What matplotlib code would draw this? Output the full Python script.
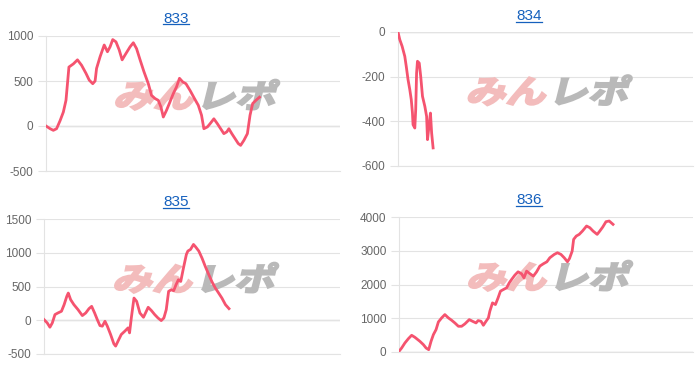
import matplotlib
matplotlib.use('Agg')
import matplotlib.pyplot as plt
from matplotlib.textpath import TextPath
from matplotlib.font_manager import FontProperties
from matplotlib.patches import PathPatch
from matplotlib.transforms import Affine2D
from matplotlib.lines import Line2D

# x = progress along the (fixed-length) x axis, 0..100
X833 = [0, 1.4, 2.5, 3.6, 4.8, 5.9, 6.8, 7.8, 9.3, 10.7, 12.1, 13.6, 14.7, 15.9, 16.7, 17.2,
        18.4, 19.8, 20.9, 21.8, 22.7, 23.8, 24.9, 25.9, 26.9, 28.6, 29.7, 30.8, 32.0, 33.3,
        34.8, 35.9, 37.1, 38.2, 39.1, 39.9, 41.0, 42.2, 43.3, 44.4, 45.4, 46.5, 47.6, 49.0,
        50.5, 51.8, 52.9, 53.7, 54.9, 55.8, 57.1, 58.3, 59.4, 60.5, 61.5, 62.2, 63.2, 64.3,
        65.4, 66.2, 67.3, 68.5, 69.4, 70.3, 71.4, 72.6]
Y833 = [0, -30, -48, -30, 60, 155, 286, 655, 690, 735, 675, 585, 510, 470, 500, 640,
        770, 900, 825, 880, 960, 935, 845, 735, 790, 880, 925, 860, 735, 605,
        470, 340, 305, 285, 210, 100, 175, 270, 360, 435, 530, 490, 470, 395,
        305, 230, 120, -30, -10, 25, 80, 25, -30, -85, -65, -30, -85, -140,
        -195, -215, -160, -85, 120, 250, 285, 320]

X834 = [0, 0.6, 1.4, 2.3, 2.8, 3.4, 4.0, 4.5, 4.9, 5.1, 5.7, 6.0, 6.3, 6.6, 7.2, 7.7,
        8.3, 9.1, 9.7, 10.0, 10.5, 11.0, 11.4, 11.9]
Y834 = [0, -34, -64, -109, -154, -213, -258, -303, -363, -415, -430, -348, -184, -131,
        -139, -199, -288, -333, -378, -482, -422, -363, -452, -519]

X835 = [0, 1.1, 2.0, 2.8, 3.7, 4.7, 5.9, 6.8, 7.7, 8.2, 9.0, 10.1, 11.5, 12.95, 14.1,
        15.2, 16.1, 17.1, 18.0, 18.9, 19.7, 20.6, 21.4, 22.5, 23.6, 24.2, 25.0, 26.1,
        27.3, 28.4, 28.9, 29.5, 30.4, 31.3, 32.4, 33.6, 34.3, 35.2, 36.3, 37.4, 38.5,
        39.6, 40.5, 41.3, 42.1, 43.0, 43.8, 44.6, 45.4, 46.2, 47.1, 48.1, 48.6, 49.5,
        50.5, 51.2, 52.3, 53.4, 54.5, 55.7, 56.8, 57.9, 59.0, 60.1, 61.3, 62.5]
Y835 = [10, -40, -103, -40, 84, 108, 133, 231, 354, 403, 305, 231, 157, 69, 108,
        172, 206, 108, 10, -79, -88, -15, -88, -211, -349, -383, -310, -211,
        -162, -113, -187, 34, 329, 280, 108, 44, 108, 192, 143, 84, 34,
        -5, 34, 157, 428, 452, 437, 526, 600, 575, 772, 975, 1025, 1049,
        1123, 1088, 1025, 919, 796, 673, 565, 476, 403, 329, 231, 172]

X836 = [0, 0.9, 2.0, 3.2, 4.3, 5.4, 7.1, 8.3, 9.2, 10.1, 10.9, 11.7, 12.6, 13.4, 14.5,
        15.6, 16.8, 17.9, 19.0, 20.2, 21.3, 22.4, 23.9, 25.0, 26.2, 26.9, 27.9, 28.7,
        29.6, 30.4, 30.9, 31.8, 32.8, 33.7, 34.5, 35.5, 36.6, 37.5, 38.3, 39.4, 40.5,
        41.7, 42.5, 43.4, 44.6, 45.7, 46.8, 47.9, 49.1, 50.3, 51.3, 52.8, 53.9, 55.1,
        56.2, 57.3, 58.0, 58.9, 59.4, 60.3, 61.3, 62.4, 63.8, 64.9, 66.0, 67.4, 68.3,
        69.3, 70.4, 71.5, 72.8]
Y836 = [20, 119, 267, 396, 495, 436, 317, 218, 119, 69, 317, 515, 663, 891, 1010,
        1109, 1010, 941, 861, 762, 762, 832, 960, 911, 861, 931, 911, 792,
        911, 1010, 1208, 1455, 1406, 1604, 1802, 1851, 1901, 2050, 2149, 2277, 2376,
        2317, 2198, 2396, 2317, 2248, 2376, 2545, 2614, 2673, 2792, 2891, 2941, 2891,
        2792, 2673, 2772, 2990, 3337, 3436, 3485, 3584, 3733, 3683, 3584, 3485, 3584,
        3703, 3861, 3881, 3782]

TITLES = ['833', '834', '835', '836']
YLIMS = [(-500, 1000), (-600, 0), (-500, 1500), (0, 4000)]
YSTEPS = [500, 200, 500, 1000]

W, H = 700, 369
LINE = '#f5536f'
GRID = '#e3e3e3'

plt.rcParams['font.family'] = ['Liberation Sans', 'DejaVu Sans']
plt.rcParams['axes.unicode_minus'] = False
fig = plt.figure(figsize=(W / 100, H / 100), dpi=100)

# axes boxes in pixels: left, top, right, bottom (from top of image)
boxes = [(46, 36, 340, 171), (398, 32, 693, 166), (44, 219, 340, 354), (399, 217, 693, 352)]
# title baseline y (px from top), panel centre x
heads = [(22.7, 176), (20.5, 529), (206.3, 176), (204.5, 529)]
series = [(X833, Y833), (X834, Y834), (X835, Y835), (X836, Y836)]

fp = FontProperties(family='Noto Sans CJK JP', weight='bold')
p_pink = TextPath((0, 0), 'みん', size=1, prop=fp)
p_gray = TextPath((0, 0), 'レポ', size=1, prop=fp)

titles = []
for k in range(4):
    l, t, r, b = boxes[k]
    ax = fig.add_axes([l / W, 1 - b / H, (r - l) / W, (b - t) / H])
    ax.set_facecolor('none')
    xs, ys = series[k]
    ax.plot(xs, ys, color=LINE, lw=2.0, solid_joinstyle='round', zorder=3)
    lo, hi = YLIMS[k]
    ax.set_ylim(lo, hi)
    ax.set_xlim(0, 100)
    ax.set_yticks(range(lo, hi + 1, YSTEPS[k]))
    ax.set_xticks([])
    ax.grid(axis='y', color=GRID, lw=0.8)
    ax.axhline(0, color='#c4c4c4', lw=0.9, zorder=1)
    for s in ['top', 'right']:
        ax.spines[s].set_visible(False)
    ax.spines['left'].set_color(GRID)
    ax.spines['bottom'].set_color(GRID)
    ax.tick_params(axis='y', length=6, color=GRID, labelcolor='#666666',
                   labelsize=8.5, pad=3)

    # watermark
    cx, cy = (l + r) / 2, H - ((t + b) / 2 - 8)
    sx, sy = 40, 32
    w1 = p_pink.get_extents().x1 * sx
    w2 = p_gray.get_extents().x1 * sx
    x0 = cx - (w1 + w2 + 4) / 2
    y0 = cy - 12
    tr1 = Affine2D().scale(sx, sy).skew_deg(14, 0).translate(x0, y0).scale(1 / W, 1 / H)
    tr2 = Affine2D().scale(sx, sy).skew_deg(14, 0).translate(x0 + w1 + 4, y0).scale(1 / W, 1 / H)
    ax.add_artist(PathPatch(tr1.transform_path(p_pink), transform=fig.transFigure,
                            fc='#f3bcbc', ec='#f3bcbc', lw=1.6, zorder=2, clip_on=False))
    ax.add_artist(PathPatch(tr2.transform_path(p_gray), transform=fig.transFigure,
                            fc='#b9b9b9', ec='#b9b9b9', lw=1.6, zorder=2, clip_on=False))

    yb, xc = heads[k]
    titles.append(fig.text(xc / W, 1 - yb / H, TITLES[k], ha='center', va='baseline',
                           fontsize=11, color='#1560bd'))

# underline the titles (they are links)
fig.canvas.draw()
for t_ in titles:
    bb = t_.get_window_extent()
    yb = t_.get_position()[1] * H - 1.6
    fig.add_artist(Line2D([bb.x0 / W, bb.x1 / W], [yb / H, yb / H],
                          color='#1560bd', lw=0.9, transform=fig.transFigure))

fig.savefig('out.png', dpi=100)
